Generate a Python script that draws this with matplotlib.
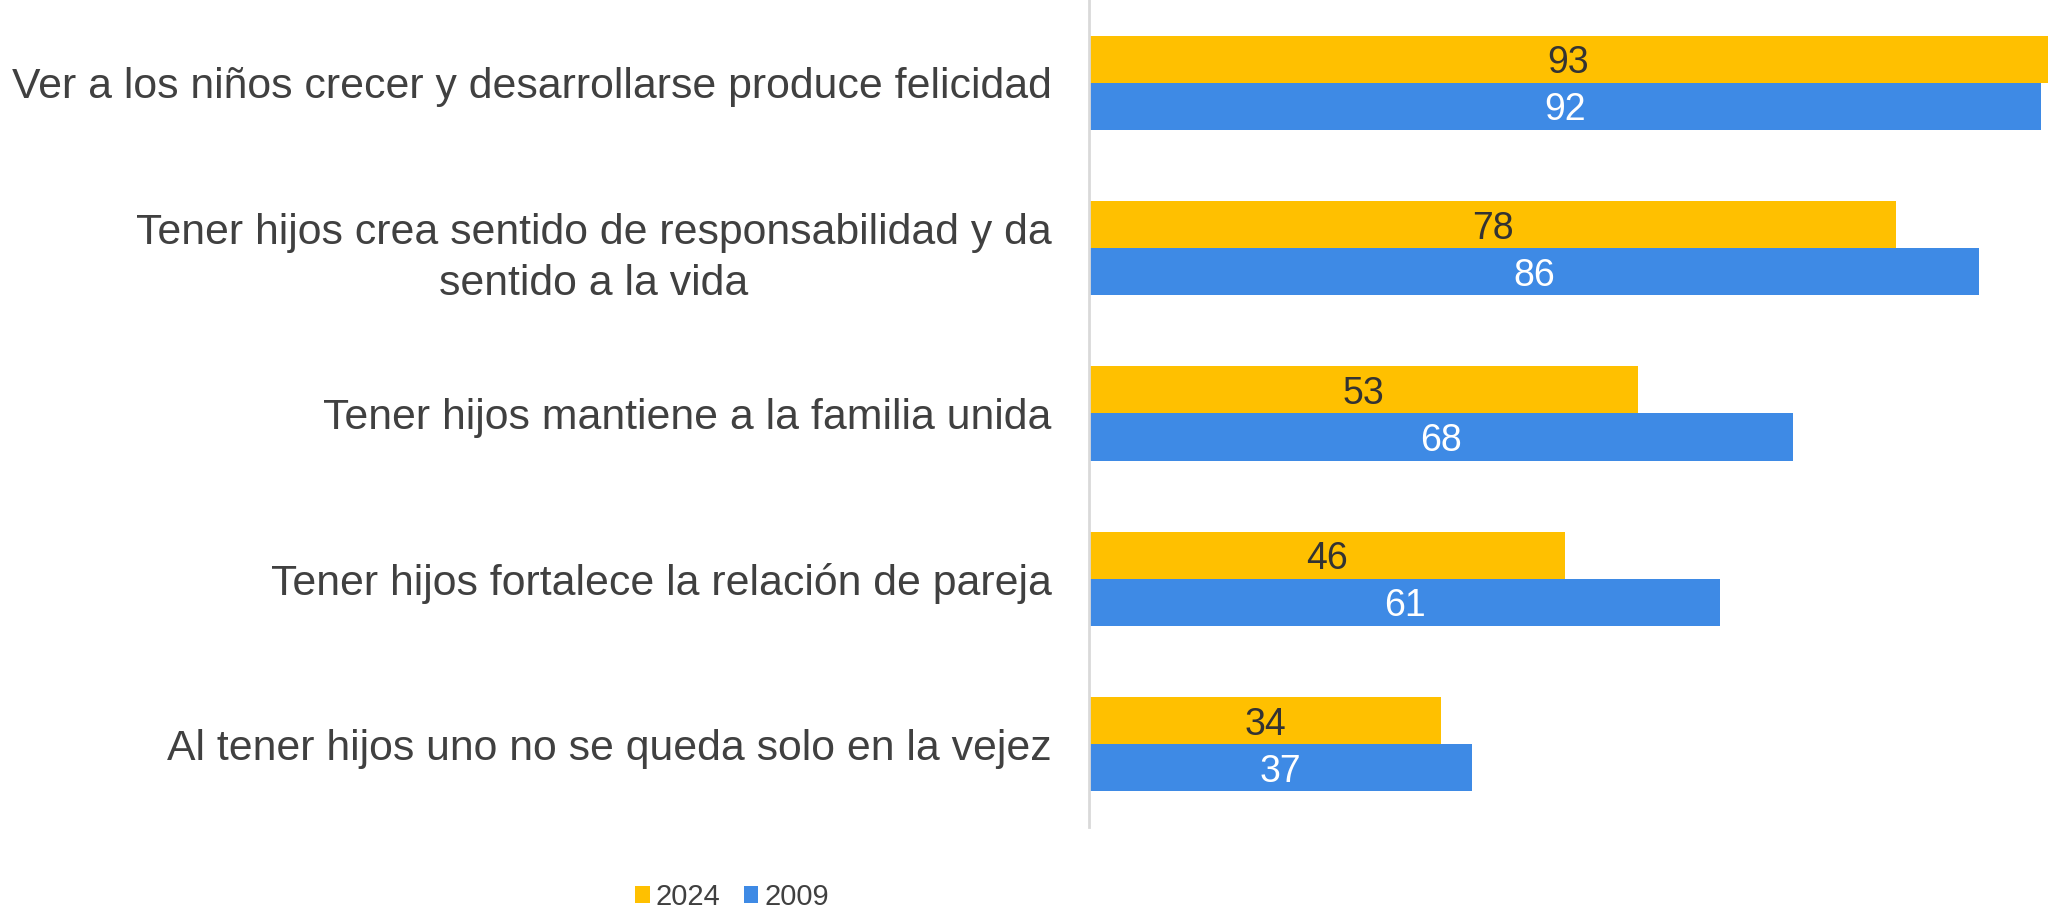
import matplotlib
matplotlib.use('Agg')
import matplotlib.pyplot as plt
import numpy as np

categories = [
    'Ver a los niños crecer y desarrollarse produce felicidad',
    'Tener hijos crea sentido de responsabilidad y da\nsentido a la vida',
    'Tener hijos mantiene a la familia unida',
    'Tener hijos fortalece la relación de pareja',
    'Al tener hijos uno no se queda solo en la vejez',
]
values_2024 = [93, 78, 53, 46, 34]
values_2009 = [92, 86, 68, 61, 37]
series_names = ['2024', '2009']

color_2024 = '#FFC000'
color_2009 = '#3E8AE5'
text_color = '#404040'

plt.rcParams['font.family'] = ['Liberation Sans', 'DejaVu Sans']

fig = plt.figure(figsize=(20.48, 9.09), dpi=100)
ax = fig.add_axes([1089 / 2048, 1 - 827 / 909, 1 - 1089 / 2048, 827 / 909])

y = np.arange(len(categories))
h = 0.285
bars_a = ax.barh(y - h / 2, values_2024, height=h, color=color_2024, label=series_names[0])
bars_b = ax.barh(y + h / 2, values_2009, height=h, color=color_2009, label=series_names[1])

labels_a = ax.bar_label(bars_a, label_type='center', fontsize=27, color='#333333')
labels_b = ax.bar_label(bars_b, label_type='center', fontsize=27, color='white')
# center the digits themselves, not the text box with descenders
for t in list(labels_a) + list(labels_b):
    t.set_va('center_baseline')

ax.set_xlim(0, (2048 - 1089) / 10.35)
ax.set_ylim(len(categories) - 0.5, -0.5)

ax.set_yticks(y)
ax.set_yticklabels(categories, fontsize=30.8, color=text_color,
                   multialignment='center', linespacing=1.37)
ax.tick_params(axis='y', length=0, pad=27)
ax.set_xticks([])

for side in ['top', 'right', 'bottom']:
    ax.spines[side].set_visible(False)
ax.spines['left'].set_color('#D9D9D9')
ax.spines['left'].set_linewidth(2)

fig.legend(loc='center', bbox_to_anchor=(732 / 2048, 1 - 897 / 909), ncol=2,
           frameon=False, fontsize=21, handlelength=0.5, handleheight=0.5,
           handletextpad=0.2, columnspacing=0.8, labelcolor=text_color)

fig.savefig('out.png', dpi=100)
